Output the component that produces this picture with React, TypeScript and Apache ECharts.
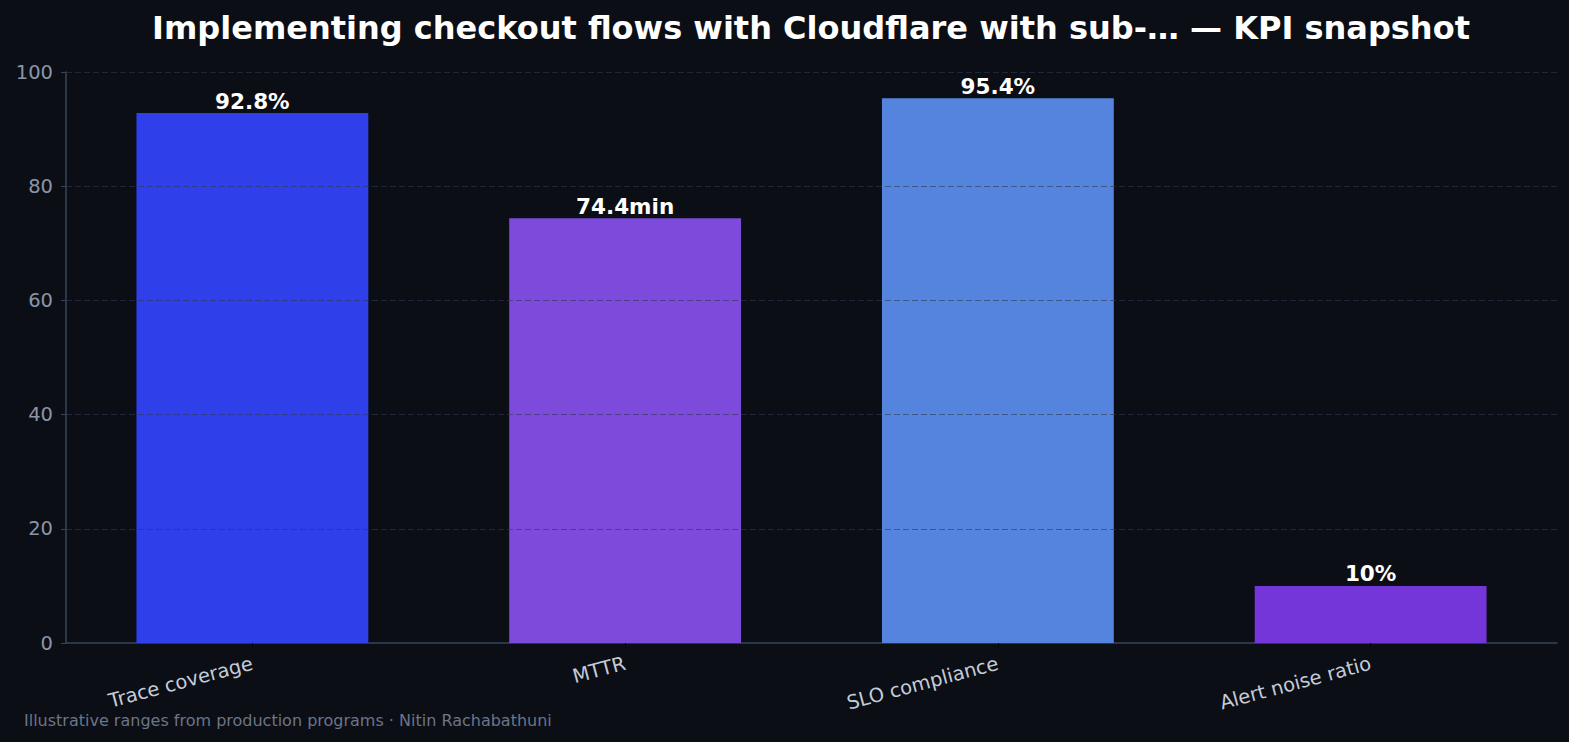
import React, { useEffect, useRef } from "react";
import * as echarts from "echarts";

const categories = ["Trace coverage", "MTTR", "SLO compliance", "Alert noise ratio"];
const values = [92.8, 74.4, 95.4, 10];
const valueLabels = ["92.8%", "74.4min", "95.4%", "10%"];
const barColors = ["#2f3fe9", "#7c4bdb", "#5584de", "#7436d8"];
const gridValues = [20, 40, 60, 80, 100];
const titleText = "Implementing checkout flows with Cloudflare with sub-… — KPI snapshot";
const footerText = "Illustrative ranges from production programs · Nitin Rachabathuni";

const FONT = "DejaVu Sans, sans-serif";

export default function App() {
  const ref = useRef<HTMLDivElement>(null);
  useEffect(() => {
    document.body.style.margin = "0";
    document.body.style.background = "#0b0e14";
    const chart = echarts.init(ref.current!, undefined, { renderer: "svg" });
    chart.setOption({
      animation: false,
      backgroundColor: "#0b0e14",
      textStyle: { fontFamily: FONT },
      title: {
        text: titleText,
        left: 806,
        top: 7,
        textAlign: "center",
        textStyle: { color: "#ffffff", fontSize: 32, fontWeight: "bold", fontFamily: FONT },
      },
      grid: { left: 66, right: 12, top: 72, bottom: 99 },
      xAxis: {
        type: "category",
        data: categories,
        axisLine: { lineStyle: { color: "#3a4455", width: 1.5 } },
        axisTick: { show: true, alignWithLabel: true, length: 5, lineStyle: { color: "#05070a" } },
        axisLabel: { color: "#c5ccd8", fontSize: 19.5, rotate: 15, margin: 20, fontFamily: FONT },
      },
      yAxis: {
        type: "value",
        min: 0,
        max: 100,
        interval: 20,
        axisLine: { show: true, lineStyle: { color: "#3a4455", width: 1.5 } },
        axisTick: { show: true, length: 5, lineStyle: { color: "#3a4455" } },
        axisLabel: { color: "#8b95a8", fontSize: 19.5, margin: 13, fontFamily: FONT },
        splitLine: { show: false },
      },
      series: [
        {
          type: "bar",
          barWidth: "62.2%",
          data: values.map((v, i) => ({ value: v, itemStyle: { color: barColors[i] } })),
          label: {
            show: true,
            position: "top",
            distance: 1,
            color: "#ffffff",
            fontSize: 21.5,
            fontWeight: "bold",
            fontFamily: FONT,
            formatter: (p: any) => valueLabels[p.dataIndex],
          },
          markLine: {
            silent: true,
            symbol: ["none", "none"],
            label: { show: false },
            lineStyle: { color: "rgba(45,55,78,0.6)", type: [6, 3], width: 1 },
            data: gridValues.map((g) => ({ yAxis: g })),
          },
        },
      ],
      graphic: [
        {
          type: "text",
          left: 24,
          top: 712,
          style: { text: footerText, fill: "#6b7588", fontSize: 16, fontFamily: FONT },
        },
      ],
    });
    return () => chart.dispose();
  }, []);
  return <div ref={ref} style={{ width: 1569, height: 742 }} />;
}
